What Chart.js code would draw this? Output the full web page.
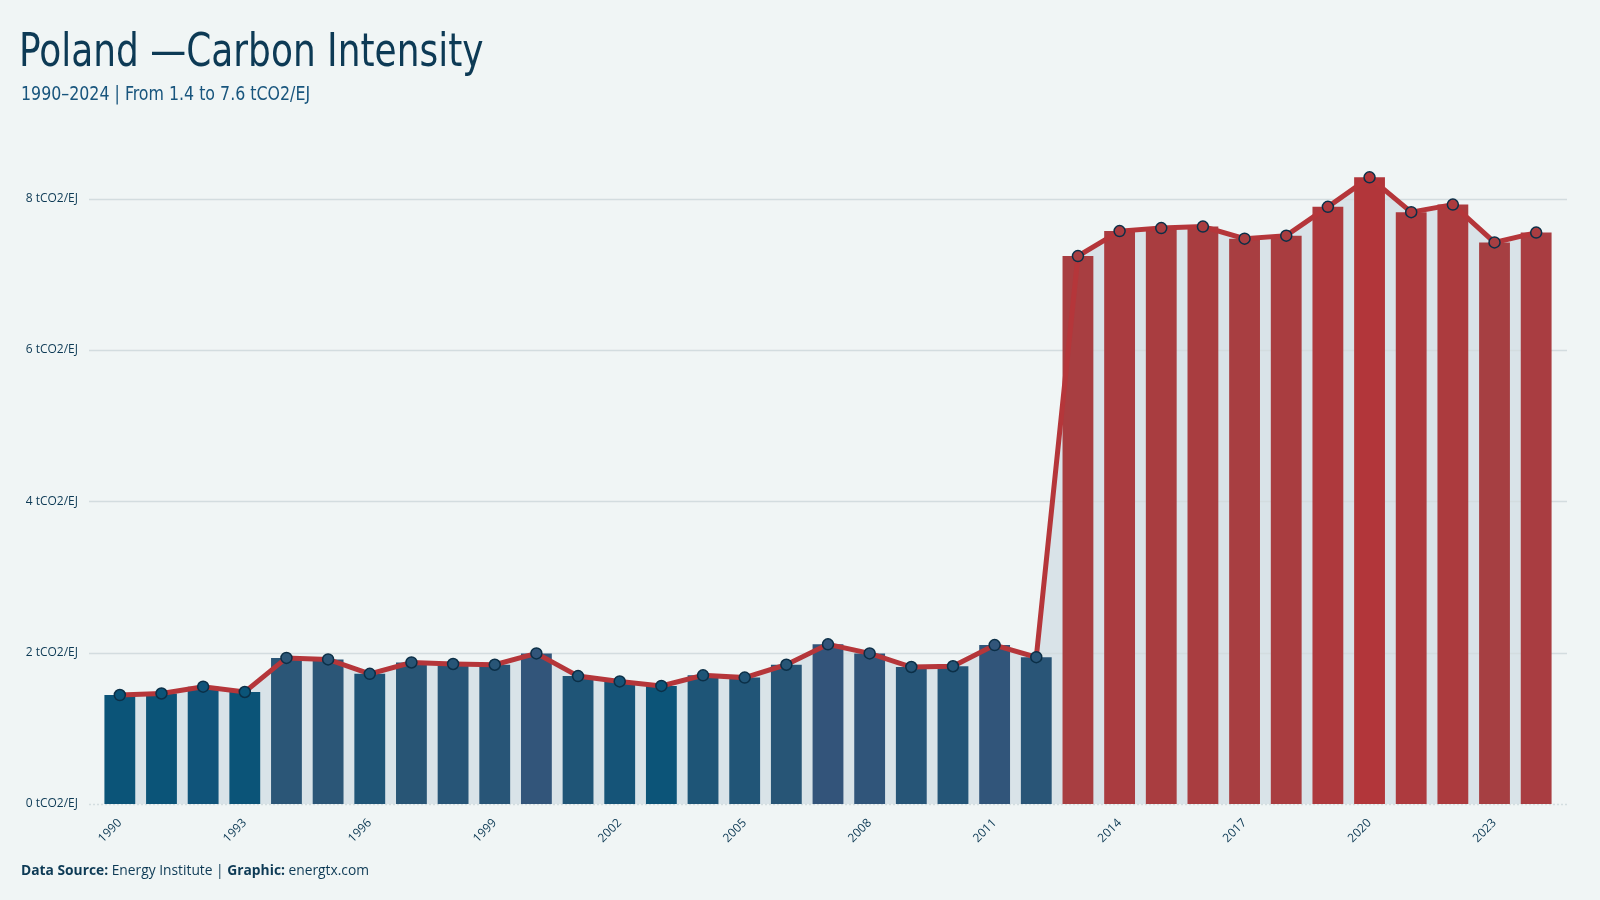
<!DOCTYPE html>
<html>
<head>
<meta charset="utf-8">
<script src="https://cdn.jsdelivr.net/npm/chart.js@4.4.1/dist/chart.umd.min.js"></script>
<style>
  html, body { margin: 0; padding: 0; background: #f0f5f5; }
  #wrap { position: relative; width: 1600px; height: 900px; overflow: hidden; }
  #title { position: absolute; left: 19px; top: 22px; font-family: "DejaVu Sans Condensed", sans-serif; font-size: 47px; color: #0d3a55; white-space: nowrap; transform: scaleX(0.85); transform-origin: left top; }
  #subtitle { position: absolute; left: 21px; top: 81px; font-family: "DejaVu Sans Condensed", sans-serif; font-size: 20px; color: #18557d; white-space: nowrap; transform: scaleX(0.88); transform-origin: left top; }
  #footer { position: absolute; left: 21px; top: 860px; font-family: "Open Sans", sans-serif; font-size: 13.8px; color: #0d3a55; white-space: nowrap; }
  #footer b { font-weight: 700; }
  canvas { position: absolute; left: 0; top: 0; }
</style>
</head>
<body>
<div id="wrap">
  <canvas id="carbonChart" width="1600" height="900"></canvas>
  <div id="title">Poland —Carbon Intensity</div>
  <div id="subtitle">1990–2024 | From 1.4 to 7.6 tCO2/EJ</div>
  <div id="footer"><b>Data Source:</b> Energy Institute | <b>Graphic:</b> energtx.com</div>
</div>
<script>
// values (tCO2/EJ)
const years = [
  "1990", "1991", "1992", "1993", "1994", "1995", "1996", "1997", "1998", "1999",
  "2000", "2001", "2002", "2003", "2004", "2005", "2006", "2007", "2008", "2009",
  "2010", "2011", "2012", "2013", "2014", "2015", "2016", "2017", "2018", "2019",
  "2020", "2021", "2022", "2023", "2024"
];
const intensity = [
  1.44, 1.46, 1.55, 1.48, 1.93, 1.91, 1.72, 1.87, 1.85, 1.84,
  1.99, 1.69, 1.62, 1.56, 1.70, 1.67, 1.84, 2.11, 1.99, 1.81,
  1.82, 2.10, 1.94, 7.24, 7.57, 7.61, 7.63, 7.47, 7.51, 7.89,
  8.28, 7.82, 7.92, 7.42, 7.55
];
const barColors = [
  "#0b5478", "#0b5478", "#10547a", "#0b5478", "#2b5677", "#2b5677", "#1f5577", "#285575", "#275577", "#285577",
  "#32557a", "#1f5577", "#155478", "#0c5478", "#1e5577", "#215577", "#275576", "#33547a", "#30557a", "#265577",
  "#245577", "#31557a", "#295577", "#a83e41", "#aa3c40", "#a93d40", "#a93d40", "#a83e41", "#a93d40", "#ae393d",
  "#b2363a", "#ad3a3e", "#ac3b3e", "#a63f42", "#a93d41"
];
const yTicks = [0, 2, 4, 6, 8];

// horizontal grid lines a bit wider than the plot area
const gridPlugin = {
  id: "wideGrid",
  beforeDatasetsDraw(chart) {
    const ctx = chart.ctx;
    const area = chart.chartArea;
    const y = chart.scales.y;
    ctx.save();
    yTicks.forEach(function (t) {
      const py = Math.round(y.getPixelForValue(t)) + 0.5;
      ctx.beginPath();
      ctx.strokeStyle = t === 0 ? "#d3dde0" : "#d3dcdf";
      ctx.lineWidth = 1.5;
      if (t === 0) ctx.setLineDash([2, 2]);
      ctx.moveTo(area.left - 10, py);
      ctx.lineTo(area.right + 10, py);
      ctx.stroke();
      ctx.setLineDash([]);
    });
    ctx.restore();
  }
};

const ctx = document.getElementById("carbonChart").getContext("2d");
const carbonChart = new Chart(ctx, {
  data: {
    labels: years,
    datasets: [
      {
        type: "line",
        data: intensity,
        borderColor: "#b5363a",
        borderWidth: 5,
        backgroundColor: "#d9e3e8",
        fill: "origin",
        tension: 0,
        pointRadius: 5.5,
        pointBackgroundColor: barColors,
        pointBorderColor: "#0b2f47",
        pointBorderWidth: 1.5,
        order: 0
      },
      {
        type: "bar",
        data: intensity,
        backgroundColor: barColors,
        borderWidth: 0,
        barPercentage: 0.74,
        categoryPercentage: 1.0,
        order: 1
      }
    ]
  },
  options: {
    responsive: false,
    animation: false,
    layout: { padding: { top: 138, right: 43, bottom: 46, left: 0 } },
    plugins: {
      legend: { display: false },
      tooltip: { enabled: false },
      filler: { drawTime: "beforeDatasetsDraw" }
    },
    scales: {
      x: {
        grid: { display: false },
        border: { display: false },
        ticks: {
          autoSkip: false,
          maxRotation: 45,
          minRotation: 45,
          padding: 4,
          color: "#0d3a55",
          font: { family: "Open Sans", size: 12 },
          callback: function (value, index) {
            return index % 3 === 0 ? years[index] : "";
          }
        },
        afterFit: function (scale) { scale.height = 50; }
      },
      y: {
        min: 0,
        max: 8.8,
        grid: { display: false },
        border: { display: false },
        afterBuildTicks: function (scale) {
          scale.ticks = yTicks.map(function (v) { return { value: v }; });
        },
        ticks: {
          padding: 13,
          color: "#0d3a55",
          font: { family: "Open Sans", size: 12 },
          callback: function (value) { return value + " tCO2/EJ"; }
        },
        afterFit: function (scale) { scale.width = 99; }
      }
    }
  },
  plugins: [gridPlugin]
});
</script>
</body>
</html>
